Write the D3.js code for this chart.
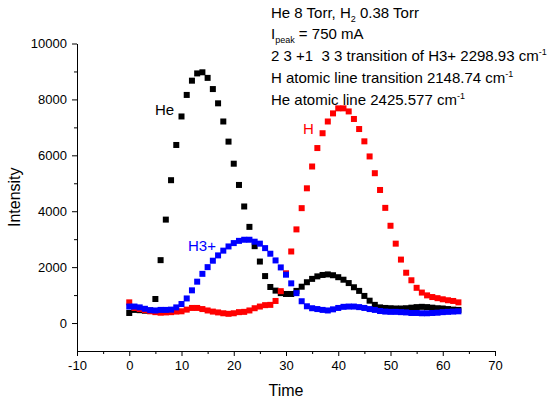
<!DOCTYPE html>
<html>
<head>
<meta charset="utf-8">
<script src="https://cdn.jsdelivr.net/npm/d3@7"></script>
<style>
body { margin: 0; background: #fff; }
text { font-family: "Liberation Sans", Arial, sans-serif; }
</style>
</head>
<body>
<div id="chart"></div>
<script>
var times = d3.range(0, 64);

var heValues = [360, 470, 460, 440, 450, 860, 2250, 3700, 5110, 6370,
  7390, 8160, 8670, 8930, 8970, 8770, 8370, 7860, 7210, 6490,
  5700, 4940, 4170, 3440, 2750, 2200, 1680, 1290, 1160, 1070,
  1040, 1040, 1150, 1300, 1460, 1580, 1670, 1720, 1740, 1710,
  1640, 1550, 1430, 1280, 1150, 970, 800, 650, 560, 540,
  530, 520, 520, 530, 550, 570, 580, 570, 550, 530,
  520, 500, 480, 470];

var hValues = [740, 540, 500, 460, 420, 390, 370, 380, 390, 410,
  420, 480, 540, 540, 500, 450, 410, 380, 350, 330,
  350, 390, 400, 450, 530, 590, 640, 650, 790, 1140,
  1780, 2560, 3350, 4110, 4820, 5600, 6260, 6790, 7210, 7500,
  7680, 7680, 7570, 7300, 6940, 6500, 5960, 5360, 4760, 4120,
  3480, 2840, 2270, 1800, 1530, 1260, 1090, 990, 930, 890,
  850, 815, 790, 740];

var h3Values = [590, 590, 560, 510, 460, 450, 470, 470, 480, 560,
  680, 880, 1170, 1480, 1760, 2000, 2230, 2420, 2590, 2740,
  2860, 2940, 2980, 2980, 2910, 2840, 2680, 2480, 2240, 1990,
  1730, 1420, 1070, 780, 600, 530, 500, 470, 450, 490,
  540, 580, 590, 590, 570, 540, 500, 470, 430, 410,
  400, 400, 390, 380, 360, 360, 350, 350, 360, 370,
  390, 400, 410, 420];

var xTicks = [-10, 0, 10, 20, 30, 40, 50, 60, 70];
var xMinor = [-5, 5, 15, 25, 35, 45, 55, 65];
var yTicks = [0, 2000, 4000, 6000, 8000, 10000];
var yMinor = [1000, 3000, 5000, 7000, 9000];

var width = 558, height = 403;

var x = d3.scaleLinear()
    .domain([-10, 70])
    .range([77, 495]);

var y = d3.scaleLinear()
    .domain([-1000, 10000])
    .range([351, 43.5]);

var svg = d3.select("#chart")
    .append("svg")
    .attr("width", width)
    .attr("height", height);

// axes
svg.append("g")
    .attr("transform", "translate(0," + y(-1000) + ")")
    .call(d3.axisBottom(x).tickValues(xMinor).tickSize(3).tickSizeOuter(0).tickFormat(""));

svg.append("g")
    .attr("transform", "translate(0," + y(-1000) + ")")
    .call(d3.axisBottom(x).tickValues(xTicks).tickSize(5).tickSizeOuter(0)
        .tickPadding(5).tickFormat(function(d) { return String(d); }))
    .call(function(g) { g.selectAll("text").style("font-size", "13px"); });

svg.append("g")
    .attr("transform", "translate(" + x(-10) + ",0)")
    .call(d3.axisLeft(y).tickValues(yMinor).tickSize(3).tickSizeOuter(0).tickFormat(""));

svg.append("g")
    .attr("transform", "translate(" + x(-10) + ",0)")
    .call(d3.axisLeft(y).tickValues(yTicks).tickSize(5).tickSizeOuter(0)
        .tickPadding(5).tickFormat(function(d) { return String(d); }))
    .call(function(g) { g.selectAll("text").style("font-size", "13px"); });

svg.selectAll(".domain, .tick line").attr("stroke", "#000");
svg.selectAll(".tick text").attr("fill", "#000");

// axis titles
svg.append("text")
    .attr("x", (x(-10) + x(70)) / 2)
    .attr("y", 396)
    .attr("text-anchor", "middle")
    .style("font-size", "16px")
    .text("Time");

svg.append("text")
    .attr("transform", "translate(20," + y(4500) + ") rotate(-90)")
    .attr("text-anchor", "middle")
    .style("font-size", "16px")
    .text("Intensity");

// series
var series = [
  { values: heValues, color: "#000000" },
  { values: hValues, color: "#ff0000" },
  { values: h3Values, color: "#0000ff" }
];

var ms = 6;
series.forEach(function(s) {
  svg.append("g").selectAll("rect")
      .data(times)
      .enter().append("rect")
      .attr("x", function(d, i) { return x(d) - ms / 2; })
      .attr("y", function(d, i) { return y(s.values[i]) - ms / 2; })
      .attr("width", ms)
      .attr("height", ms)
      .attr("fill", s.color);
});

// series labels
svg.append("text").attr("x", 155).attr("y", 115).style("font-size", "15px").attr("fill", "#000").text("He");
svg.append("text").attr("x", 303).attr("y", 134).style("font-size", "15px").attr("fill", "#ff0000").text("H");
svg.append("text").attr("x", 188).attr("y", 251).style("font-size", "15px").attr("fill", "#0000ff").text("H3+");

// annotation block
var note = svg.append("g").style("font-size", "15px").attr("fill", "#000");
var lx = 271;

var l1 = note.append("text").attr("x", lx).attr("y", 18);
l1.append("tspan").text("He 8 Torr, H");
l1.append("tspan").attr("dy", 4).style("font-size", "9px").text("2");
l1.append("tspan").attr("dy", -4).text(" 0.38 Torr");

var l2 = note.append("text").attr("x", lx).attr("y", 39);
l2.append("tspan").text("I");
l2.append("tspan").attr("dy", 4).style("font-size", "9px").text("peak");
l2.append("tspan").attr("dy", -4).text(" = 750 mA");

var l3 = note.append("text").attr("x", lx).attr("y", 61).attr("xml:space", "preserve").style("white-space", "pre");
l3.append("tspan").text("2 3 +1  3 3 transition of H3+ 2298.93 cm");
l3.append("tspan").attr("dy", -6).style("font-size", "9px").text("-1");

var l4 = note.append("text").attr("x", lx).attr("y", 83);
l4.append("tspan").text("H atomic line transition 2148.74 cm");
l4.append("tspan").attr("dy", -6).style("font-size", "9px").text("-1");

var l5 = note.append("text").attr("x", lx).attr("y", 105);
l5.append("tspan").text("He atomic line 2425.577 cm");
l5.append("tspan").attr("dy", -6).style("font-size", "9px").text("-1");
</script>
</body>
</html>
